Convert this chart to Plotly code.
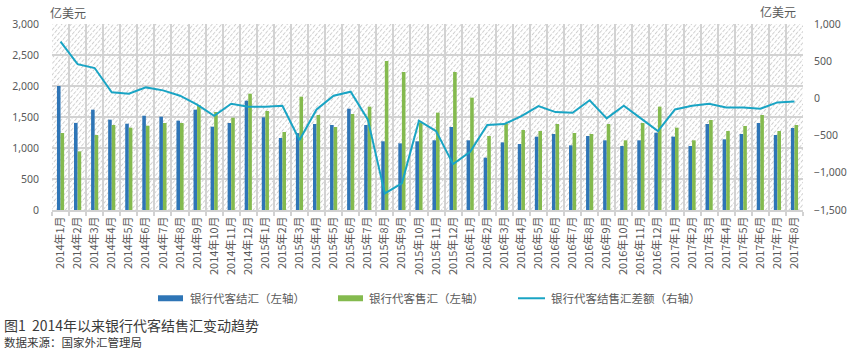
import base64
import plotly.graph_objects as go

# ---------------- data ----------------
months = (
    [f"2014年{m}月" for m in range(1, 13)]
    + [f"2015年{m}月" for m in range(1, 13)]
    + [f"2016年{m}月" for m in range(1, 13)]
    + [f"2017年{m}月" for m in range(1, 9)]
)

settle = [2000, 1405, 1618, 1457, 1392, 1521, 1505, 1441, 1618, 1344, 1403, 1763,
          1495, 1161, 1240, 1387, 1371, 1634, 1371, 1108, 1075, 1108, 1124, 1339,
          1124, 844, 1091, 1065, 1183, 1226, 1043, 1194, 1124, 1032, 1124, 1247,
          1183, 1032, 1387, 1140, 1226, 1403, 1210, 1323]

sale = [1242, 946, 1210, 1371, 1328, 1360, 1403, 1403, 1694, 1581, 1489, 1876,
        1597, 1258, 1828, 1532, 1339, 1548, 1667, 2403, 2226, 1410, 1570, 2226,
        1812, 1194, 1398, 1290, 1274, 1387, 1242, 1226, 1387, 1124, 1403, 1667,
        1328, 1124, 1452, 1274, 1355, 1532, 1274, 1371]

balance = [762, 461, 408, 81, 63, 148, 108, 36, -85, -233, -72, -112,
           -112, -99, -560, -148, 36, 90, -282, -1277, -1142, -300, -439, -883,
           -717, -358, -345, -237, -103, -184, -193, -25, -269, -99, -269, -439,
           -148, -99, -72, -121, -121, -139, -54, -40]

series_names = ["银行代客结汇（左轴）", "银行代客售汇（左轴）", "银行代客结售汇差额（右轴）"]
left_ticks = [0, 500, 1000, 1500, 2000, 2500, 3000]
right_ticks = [-1500, -1000, -500, 0, 500, 1000]
unit_label = "亿美元"
caption = "图1  2014年以来银行代客结售汇变动趋势"
source = "数据来源：国家外汇管理局"

# ---------------- style ----------------
W, H = 850, 354
L, R, T, B = 52, 47, 23.5, 144
PW, PH = W - L - R, H - T - B
BLUE, GREEN, TEAL = "#2E75B6", "#84BA4E", "#19A4C4"
GRID = "#d2d2d2"
TXT = "#595959"
FONT = "Noto Sans, Noto Sans CJK SC, sans-serif"
CJK = "Noto Sans CJK SC, sans-serif"


def px_x(px):
    return (px - L) / PW


def px_y(py):
    return (H - B - py) / PH


fig = go.Figure()
fig.add_trace(go.Bar(x=months, y=settle, name=series_names[0], marker_color=BLUE,
                     marker_line_width=0, yaxis="y"))
fig.add_trace(go.Bar(x=months, y=sale, name=series_names[1], marker_color=GREEN,
                     marker_line_width=0, yaxis="y"))
fig.add_trace(go.Scatter(x=months, y=balance, name=series_names[2], mode="lines",
                         line=dict(color=TEAL, width=2), yaxis="y2"))

# hatched plot background as an inline SVG image
svg = (
    f'<svg xmlns="http://www.w3.org/2000/svg" width="{PW}" height="{PH}" '
    f'viewBox="0 0 {PW} {PH}" preserveAspectRatio="none">'
    '<defs><pattern id="p" width="5" height="3.6" patternUnits="userSpaceOnUse" '
    'patternTransform="rotate(-50)">'
    '<line x1="0" y1="0.5" x2="5" y2="0.5" stroke="#c8c8c8" stroke-width="0.9" '
    'stroke-dasharray="3.6 1.4"/></pattern></defs>'
    f'<rect width="{PW}" height="{PH}" fill="url(#p)"/></svg>'
)
src = "data:image/svg+xml;base64," + base64.b64encode(svg.encode()).decode()

fig.add_layout_image(dict(source=src, xref="paper", yref="paper", x=0, y=1,
                          sizex=1, sizey=1, xanchor="left", yanchor="top",
                          sizing="stretch", layer="below"))

annotations = [
    dict(text=unit_label, xref="paper", yref="paper", x=px_x(48), y=px_y(12),
         xanchor="left", yanchor="middle", showarrow=False,
         font=dict(family=CJK, size=12, color=TXT)),
    dict(text=unit_label, xref="paper", yref="paper", x=px_x(798), y=px_y(11),
         xanchor="right", yanchor="middle", showarrow=False,
         font=dict(family=CJK, size=12, color=TXT)),
    dict(text=caption, xref="paper", yref="paper", x=px_x(2), y=px_y(325),
         xanchor="left", yanchor="middle", showarrow=False,
         font=dict(family=CJK, size=14, color="#3a3a3a")),
    dict(text=source, xref="paper", yref="paper", x=px_x(2), y=px_y(342),
         xanchor="left", yanchor="middle", showarrow=False,
         font=dict(family=CJK, size=11.5, color="#3a3a3a")),
]

# custom legend
leg_y = 298.5
leg_items = [(158, 183, 188, BLUE, "bar"), (338, 363, 367, GREEN, "bar"),
             (518, 545, 549, TEAL, "line")]
shapes = []
for (x0, x1, tx, col, kind), name in zip(leg_items, series_names):
    if kind == "bar":
        shapes.append(dict(type="rect", xref="paper", yref="paper",
                           x0=px_x(x0), x1=px_x(x1), y0=px_y(leg_y + 3), y1=px_y(leg_y - 3),
                           fillcolor=col, line_width=0))
    else:
        shapes.append(dict(type="line", xref="paper", yref="paper",
                           x0=px_x(x0), x1=px_x(x1), y0=px_y(leg_y), y1=px_y(leg_y),
                           line=dict(color=col, width=2)))
    annotations.append(dict(text=name, xref="paper", yref="paper", x=px_x(tx), y=px_y(leg_y),
                            xanchor="left", yanchor="middle", showarrow=False,
                            font=dict(family=CJK, size=11.5, color=TXT)))

fig.update_layout(
    width=W, height=H,
    margin=dict(l=L, r=R, t=T, b=B, autoexpand=False),
    paper_bgcolor="white", plot_bgcolor="white",
    barmode="group", bargap=0.58, bargroupgap=0,
    showlegend=False,
    font=dict(family=FONT, color=TXT),
    xaxis=dict(type="category", tickson="boundaries", showgrid=True, gridcolor=GRID,
               gridwidth=2, ticks="outside", ticklen=4, tickcolor=GRID, tickwidth=1.5,
               tickangle=-90, tickfont=dict(family=CJK, size=11, color=TXT),
               showline=True, linecolor=GRID, linewidth=2, automargin=False,
               mirror=False),
    yaxis=dict(range=[0, 3000], tickvals=left_ticks, tickformat=",", showgrid=True,
               gridcolor=GRID, gridwidth=2, zeroline=False, showline=False,
               tickfont=dict(family=FONT, size=10.5, color=TXT), ticklabelstandoff=12,
               automargin=False),
    yaxis2=dict(range=[-1500, 1000], tickvals=right_ticks, tickformat=",",
                overlaying="y", side="right", showgrid=False, zeroline=False,
                tickfont=dict(family=FONT, size=10.5, color=TXT), ticklabelstandoff=10,
                automargin=False),
    annotations=annotations,
    shapes=shapes,
)

fig.write_html("out.html")
